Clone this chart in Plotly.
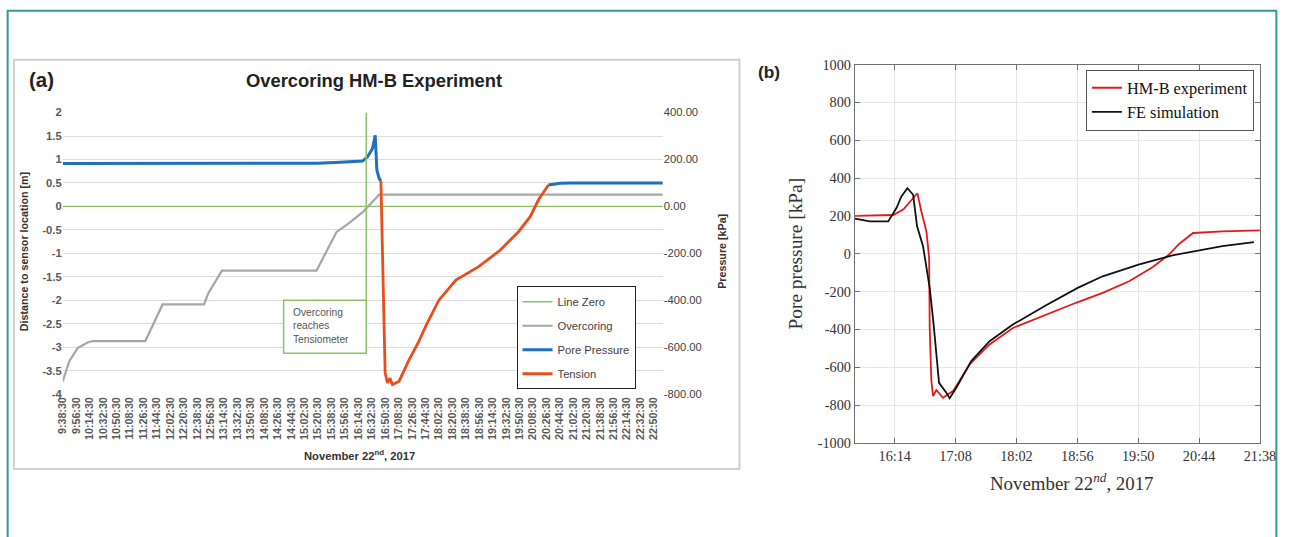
import plotly.graph_objects as go

W, H = 1293, 537
DAY = "2017-11-22 "

# ---------------- Panel (a) data ----------------
overcoring_t = ["09:38:30", "09:47:18", "09:58:30", "10:11:48", "10:18:30", "11:29:12", "11:52:18",
                "12:47:48", "12:53:36", "13:11:48", "15:18:30", "15:45:12", "16:02:30", "16:20:00",
                "16:42:30", "23:02:30"]
overcoring_m = [-3.73, -3.30, -3.02, -2.90, -2.87, -2.87, -2.09, -2.09, -1.85, -1.37, -1.37,
                -0.55, -0.35, -0.13, 0.25, 0.25]

pore1_t = ["09:38:30", "15:20:00", "15:50:00", "16:20:12", "16:26:54", "16:33:36", "16:35:48",
           "16:37:12", "16:39:24", "16:42:30", "16:44:48"]
pore1_kpa = [183, 184, 188, 193, 211, 247, 282, 303, 154, 119, 109]
pore2_t = ["20:29:12", "20:36:00", "20:45:00", "21:00:00", "23:02:30"]
pore2_kpa = [91, 95, 99, 100, 100]

tension_t = ["16:44:48", "16:47:48", "16:50:30", "16:53:36", "16:56:48", "17:00:12", "17:09:12",
             "17:22:30", "17:35:00", "17:46:30", "18:02:30", "18:25:12", "18:55:48", "19:24:54",
             "19:49:12", "20:04:48", "20:15:48", "20:29:12"]
tension_kpa = [109, -300, -711, -753, -732, -760, -745, -654, -580, -500, -400, -314, -257,
               -186, -108, -44, 27, 91]

zero_t = ["09:38:30", "23:02:30"]
zero_m = [0, 0]

marker_time = "16:25:12"
box_left_time = "14:34:30"
box_top_m, box_bottom_m = -2.0, -3.13
text_time = "14:45:00"
text_m = -2.55

a_ticks = ["9:38:30", "9:56:30", "10:14:30", "10:32:30", "10:50:30", "11:08:30", "11:26:30",
           "11:44:30", "12:02:30", "12:20:30", "12:38:30", "12:56:30", "13:14:30", "13:32:30",
           "13:50:30", "14:08:30", "14:26:30", "14:44:30", "15:02:30", "15:20:30", "15:38:30",
           "15:56:30", "16:14:30", "16:32:30", "16:50:30", "17:08:30", "17:26:30", "17:44:30",
           "18:02:30", "18:20:30", "18:38:30", "18:56:30", "19:14:30", "19:32:30", "19:50:30",
           "20:08:30", "20:26:30", "20:44:30", "21:02:30", "21:20:30", "21:38:30", "21:56:30",
           "22:14:30", "22:32:30", "22:50:30"]
a_range = ["09:38:30", "23:02:30"]
left_ticks = [2, 1.5, 1, 0.5, 0, -0.5, -1, -1.5, -2, -2.5, -3, -3.5, -4]
left_labels = ["2", "1.5", "1", "0.5", "0", "-0.5", "-1", "-1.5", "-2", "-2.5", "-3", "-3.5", "-4"]
right_ticks = [400, 200, 0, -200, -400, -600, -800]
right_labels = ["400.00", "200.00", "0.00", "-200.00", "-400.00", "-600.00", "-800.00"]

# ---------------- Panel (b) data ----------------
exp_t = ["15:38:36", "16:12:48", "16:21:42", "16:34:06", "16:37:36", "16:42:06", "16:44:30",
         "16:45:00", "16:46:30", "16:48:00", "16:50:54", "16:53:48", "16:56:48", "17:01:18",
         "17:05:42", "17:20:24", "17:38:06", "17:58:48", "18:28:18", "18:54:48", "19:18:30",
         "19:42:00", "20:02:42", "20:17:24", "20:26:18", "20:38:42", "21:04:42", "21:38:00"]
exp_kpa = [200, 205, 235, 320, 224, 119, -22, -392, -673, -752, -720, -740, -761, -743, -726,
           -585, -479, -392, -320, -259, -207, -145, -71, -4, 52, 110, 119, 124]

sim_t = ["15:38:36", "15:51:54", "16:08:12", "16:15:30", "16:19:54", "16:25:12", "16:30:18",
         "16:33:48", "16:39:06", "16:45:00", "16:48:30", "16:53:18", "16:59:48", "17:02:42",
         "17:08:36", "17:21:54", "17:38:06", "17:58:48", "18:28:18", "18:56:18", "19:18:30",
         "19:50:18", "20:20:24", "20:44:00", "21:04:42", "21:32:42"]
sim_kpa = [186, 171, 171, 242, 303, 347, 312, 145, 40, -180, -374, -682, -735, -764, -708,
           -567, -462, -374, -272, -180, -119, -57, -8, 17, 40, 62]

b_ticks = ["16:14", "17:08", "18:02", "18:56", "19:50", "20:44", "21:38"]
b_range = ["15:38:36", "21:38:00"]
b_yticks = [1000, 800, 600, 400, 200, 0, -200, -400, -600, -800, -1000]
b_ylabels = ["1000", "800", "600", "400", "200", "0", "-200", "-400", "-600", "-800", "-1000"]


def ts(t):
    parts = t.split(":")
    if len(parts) == 2:
        parts.append("00")
    return DAY + ":".join(p.zfill(2) for p in parts)


# page placement compensation (screen position -> layout fraction)
SX, OX = 0.987, 6.0
SY, OY = 0.972, 6.25


def px(x):
    return min(max((x - OX) / SX / W, 0.0005), 0.9995)


def py(y):
    return 1 - min(max((y - OY) / SY / H, 0.0), 1.2)


def fs(s):
    return round(s * 1.02, 2)


SANS = "Liberation Sans, Arial, sans-serif"
SERIF = "Liberation Serif, Times New Roman, serif"

GREEN = "#8cc168"
GRAY = "#a6a6a6"
BLUE = "#1f70bf"
ORANGE = "#e84d1d"

fig = go.Figure()

fig.add_trace(go.Scatter(x=[ts(t) for t in zero_t], y=zero_m, mode="lines", name="Line Zero",
                         line=dict(color=GREEN, width=1.3), xaxis="x", yaxis="y",
                         legend="legend", legendgroup="g1"))
fig.add_trace(go.Scatter(x=[ts(t) for t in overcoring_t], y=overcoring_m, mode="lines",
                         name="Overcoring", line=dict(color=GRAY, width=2.2), xaxis="x", yaxis="y",
                         legend="legend", legendgroup="g2"))
fig.add_trace(go.Scatter(x=[ts(t) for t in pore1_t] + [None] + [ts(t) for t in pore2_t],
                         y=pore1_kpa + [None] + pore2_kpa, mode="lines", name="Pore Pressure",
                         connectgaps=False, line=dict(color=BLUE, width=3),
                         xaxis="x", yaxis="y2", legend="legend", legendgroup="g3"))
fig.add_trace(go.Scatter(x=[ts(t) for t in tension_t], y=tension_kpa, mode="lines",
                         name="Tension", line=dict(color=ORANGE, width=2.8),
                         xaxis="x", yaxis="y2", legend="legend", legendgroup="g4"))

fig.add_trace(go.Scatter(x=[ts(t) for t in exp_t], y=exp_kpa, mode="lines", name="HM-B experiment",
                         line=dict(color="#e3191c", width=1.8), xaxis="x3", yaxis="y3",
                         legend="legend2"))
fig.add_trace(go.Scatter(x=[ts(t) for t in sim_t], y=sim_kpa, mode="lines", name="FE simulation",
                         line=dict(color="#111111", width=1.8), xaxis="x3", yaxis="y3",
                         legend="legend2"))

fig.update_layout(
    width=W, height=H,
    margin=dict(l=0, r=0, t=0, b=0),
    paper_bgcolor="white", plot_bgcolor="white",
    font=dict(family=SANS, color="#404040"),
    xaxis=dict(domain=[px(62), px(665)], anchor="y", type="date",
               range=[ts(a_range[0]), ts(a_range[1])],
               tickmode="array", tickvals=[ts(t) for t in a_ticks], ticktext=a_ticks,
               tickangle=-90, tickfont=dict(size=fs(10.5), color="#595959", weight="bold"),
               showgrid=False, zeroline=False, showline=False, ticks=""),
    yaxis=dict(domain=[py(393), py(111)], anchor="x", range=[-4, 2],
               tickmode="array", tickvals=left_ticks, ticktext=left_labels,
               tickfont=dict(size=fs(11), color="#595959", weight="bold"),
               gridcolor="#dcdcdc", gridwidth=1, zeroline=False, showline=False, ticks=""),
    yaxis2=dict(overlaying="y", side="right", anchor="x", range=[-800, 400],
                tickmode="array", tickvals=right_ticks, ticktext=right_labels,
                tickfont=dict(size=fs(11), color="#404040"),
                showgrid=False, zeroline=False, showline=False, ticks=""),
    xaxis3=dict(domain=[px(858), px(1265)], anchor="y3", type="date",
                range=[ts(b_range[0]), ts(b_range[1])],
                tickmode="array", tickvals=[ts(t) for t in b_ticks], ticktext=b_ticks,
                tickfont=dict(family=SERIF, size=fs(14), color="#333333"),
                ticklabeloverflow="allow",
                showgrid=True, gridcolor="#e6e6e6", zeroline=False,
                showline=True, linecolor="#707070", linewidth=1, mirror="ticks",
                ticks="inside", ticklen=5, tickcolor="#707070"),
    yaxis3=dict(domain=[py(442), py(63)], anchor="x3", range=[-1000, 1000],
                tickmode="array", tickvals=b_yticks, ticktext=b_ylabels,
                tickfont=dict(family=SERIF, size=fs(14), color="#333333"),
                showgrid=True, gridcolor="#e6e6e6", zeroline=False,
                showline=True, linecolor="#707070", linewidth=1, mirror="ticks",
                ticks="inside", ticklen=5, tickcolor="#707070"),
    legend=dict(x=px(518), y=py(285), xanchor="left", yanchor="top",
                bordercolor="#222222", borderwidth=1, bgcolor="white",
                font=dict(family=SANS, size=fs(11), color="#404040"),
                tracegroupgap=5, itemwidth=30),
    legend2=dict(x=px(1259), y=py(68), xanchor="right", yanchor="top",
                 bordercolor="#555555", borderwidth=1, bgcolor="white",
                 font=dict(family=SERIF, size=fs(16), color="#111111"),
                 itemwidth=30, tracegroupgap=0),
    showlegend=True,
)

shapes = [
    dict(type="rect", xref="paper", yref="paper", x0=0.0005, x1=0.9995, y0=-0.1, y1=py(9),
         line=dict(color="#2e9d8c", width=2), layer="below"),
    dict(type="rect", xref="paper", yref="paper", x0=px(13), x1=px(742), y0=py(468), y1=py(58),
         line=dict(color="#d0d0d0", width=2), layer="below"),
    dict(type="line", xref="x", yref="y", x0=ts(marker_time), x1=ts(marker_time),
         y0=box_bottom_m, y1=2, line=dict(color=GREEN, width=1.5)),
    dict(type="rect", xref="x", yref="y", x0=ts(box_left_time), x1=ts(marker_time),
         y0=box_bottom_m, y1=box_top_m, line=dict(color=GREEN, width=1.5), fillcolor="white"),
]
fig.update_layout(shapes=shapes)


def ann(text, x, y, size, family=SANS, color="#222222", angle=0, **kw):
    d = dict(text=text, x=x, y=y, xref="paper", yref="paper", showarrow=False,
             xanchor="center", yanchor="middle", textangle=angle,
             font=dict(family=family, size=fs(size), color=color))
    d.update(kw)
    return d


annotations = [
    ann("<b>(a)</b>", px(41), py(78), 20),
    ann("<b>Overcoring HM-B Experiment</b>", px(375), py(79), 18),
    ann("<b>Distance to sensor location [m]</b>", px(23), py(250), 10.5, color="#333333", angle=-90),
    ann("<b>Pressure [kPa]</b>", px(725), py(250), 10.5, color="#333333", angle=-90),
    ann("<b>November 22<sup>nd</sup>, 2017</b>", px(360), py(454), 11, color="#333333"),
    dict(text="Overcoring<br>reaches<br>Tensiometer", x=ts(text_time), y=text_m, xref="x", yref="y",
         xanchor="left", yanchor="middle", align="left", showarrow=False,
         font=dict(family=SANS, size=fs(10), color="#555555")),
    ann("<b>(b)</b>", px(772), py(70), 17),
    ann("Pore pressure [kPa]", px(798), py(252), 19, family=SERIF, color="#333333", angle=-90),
    ann("November 22<sup><i>nd</i></sup>, 2017", px(1076), py(481), 18.5, family=SERIF,
        color="#333333"),
]
fig.update_layout(annotations=annotations)

post = ("document.body.style.margin='0';document.body.style.overflow='hidden';"
        "var gd=document.getElementById('{plot_id}');gd.style.position='absolute';"
        "gd.style.left='0px';gd.style.top='0px';")
fig.write_html("out.html", post_script=post, config={"displayModeBar": False})
